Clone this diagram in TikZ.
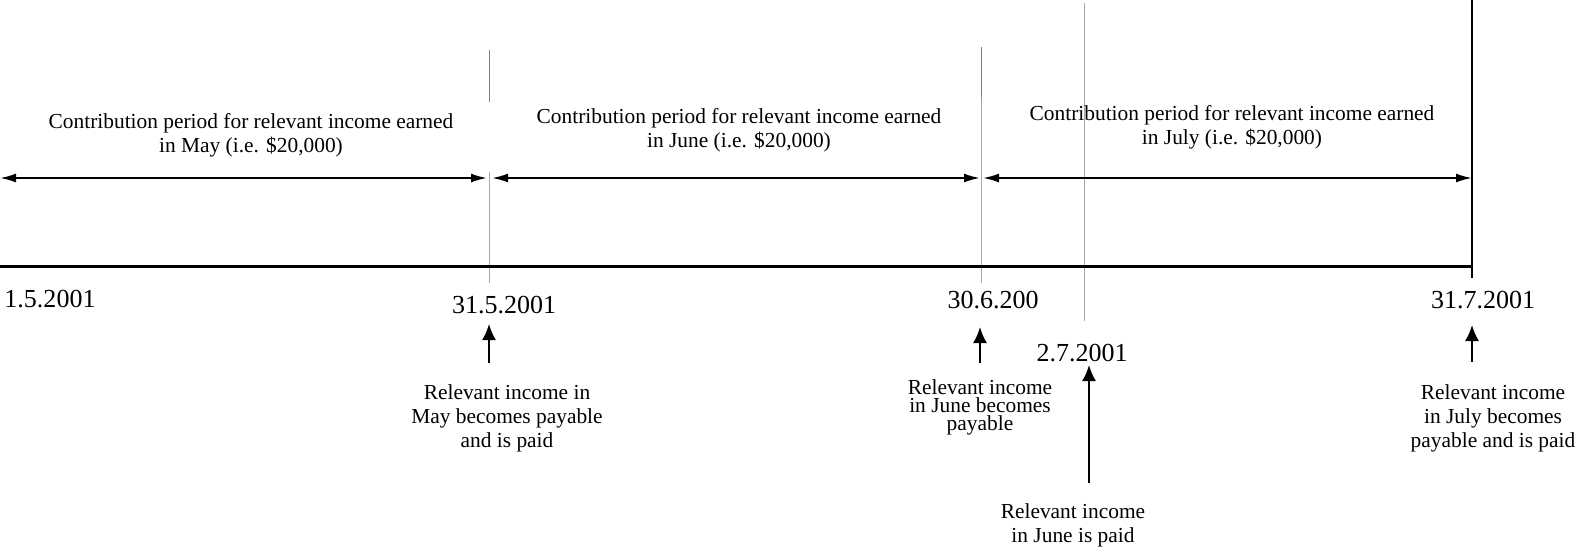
\documentclass[tikz,border=0pt]{standalone}
\usepackage{fontspec}
\setmainfont{Liberation Serif}
\usetikzlibrary{arrows.meta}
\begin{document}
\begin{tikzpicture}[x=1pt,y=-1pt,
  ctext/.style={font=\fontsize{21.4}{24}\selectfont, align=center, inner sep=0pt, anchor=base},
  ntight/.style={font=\fontsize{21.4}{18}\selectfont, align=center, inner sep=0pt, anchor=base},
  dtext/.style={font=\fontsize{26}{30}\selectfont, inner sep=0pt, anchor=base},
  spanarrow/.style={line width=2pt, {Latex[length=16pt,width=9pt]}-{Latex[length=16pt,width=9pt]}},
  uparrow/.style={line width=2pt, -{Latex[length=16pt,width=14pt]}},
  guide/.style={draw=black!35, line width=1pt},
  guidedark/.style={draw=black!50, line width=1pt}]
\useasboundingbox (0,0) rectangle (1578,549);

% guide lines
\coordinate (g1a) at (489,50);  \coordinate (g1b) at (489,102);
\coordinate (g1c) at (489,172); \coordinate (g1d) at (489,283);
\coordinate (g2a) at (981,47);  \coordinate (g2b) at (981,97);
\coordinate (g2c) at (981,283);
\coordinate (g3a) at (1084.5,3); \coordinate (g3b) at (1084.5,321);
\draw[guidedark] (g1a) -- (g1b);
\draw[guide] (g1c) -- (g1d);
\draw[guidedark] (g2a) -- (g2b);
\draw[guide] (g2b) -- (g2c);
\draw[guide] (g3a) -- (g3b);

% timeline
\coordinate (t0) at (0,266.5);
\coordinate (t1) at (1473,266.5);
\draw[line width=3.5pt] (t0) -- (t1);
\coordinate (r0) at (1472,0);
\coordinate (r1) at (1472,278);
\draw[line width=2pt] (r0) -- (r1);

% period arrows
\coordinate (p1l) at (0,178);   \coordinate (p1r) at (487,178);
\coordinate (p2l) at (492,178); \coordinate (p2r) at (980,178);
\coordinate (p3l) at (983,178); \coordinate (p3r) at (1472,178);
\draw[spanarrow] (p1l) -- (p1r);
\draw[spanarrow] (p2l) -- (p2r);
\draw[spanarrow] (p3l) -- (p3r);

% period texts (anchor = baseline of last line)
\node[ctext] (c1) at (251,152) {Contribution period for relevant income earned\\in May (i.e. \$20,000)};
\node[ctext] (c2) at (739,147) {Contribution period for relevant income earned\\in June (i.e. \$20,000)};
\node[ctext] (c3) at (1232,144) {Contribution period for relevant income earned\\in July (i.e. \$20,000)};

% dates
\node[dtext] (d1) at (50,307) {1.5.2001};
\node[dtext] (d2) at (504,313) {31.5.2001};
\node[dtext] (d3) at (993,308) {30.6.200};
\node[dtext] (d4) at (1082,361) {2.7.2001};
\node[dtext] (d5) at (1483,308) {31.7.2001};

% up arrows
\coordinate (u1b) at (489,363);  \coordinate (u1t) at (489,324);
\coordinate (u2b) at (980,363);  \coordinate (u2t) at (980,327);
\coordinate (u3b) at (1089,483); \coordinate (u3t) at (1089,365);
\coordinate (u4b) at (1472,362); \coordinate (u4t) at (1472,325);
\draw[uparrow] (u1b) -- (u1t);
\draw[uparrow] (u2b) -- (u2t);
\draw[uparrow] (u3b) -- (u3t);
\draw[uparrow] (u4b) -- (u4t);

% notes (anchor = baseline of last line)
\node[ctext] (n1) at (507,447) {Relevant income in\\May becomes payable\\and is paid};
\node[ntight] (n2) at (980,430) {Relevant income\\in June becomes\\payable};
\node[ctext] (n3) at (1073,542) {Relevant income\\in June is paid};
\node[ctext] (n4) at (1493,447) {Relevant income\\in July becomes\\payable and is paid};
\end{tikzpicture}
\end{document}
